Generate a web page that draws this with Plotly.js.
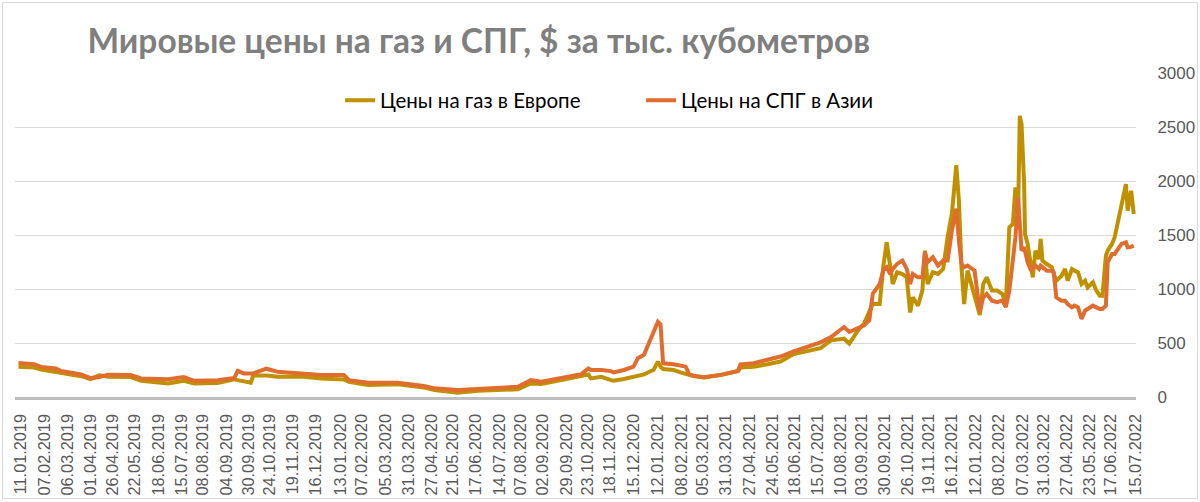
<!DOCTYPE html>
<html>
<head>
<meta charset="utf-8">
<script src="https://cdn.plot.ly/plotly-3.0.1.min.js"></script>
<style>
  html, body { margin: 0; padding: 0; background: #fff; }
  #myChart { width: 1200px; height: 502px; }
  #frame { position: absolute; left: 2px; top: 2px; width: 1194px; height: 495px;
           border: 1px solid #d9d9d9; pointer-events: none; }
</style>
</head>
<body>
<div id="myChart"></div>
<div id="frame"></div>
<script>
// dates of the points
const dates = [
  "2019-01-08", "2019-01-26", "2019-02-03", "2019-02-20", "2019-02-26", "2019-03-21",
  "2019-04-01", "2019-04-11", "2019-04-21", "2019-05-17", "2019-05-29", "2019-06-29",
  "2019-07-17", "2019-07-29", "2019-08-25", "2019-09-13", "2019-09-17", "2019-09-24",
  "2019-10-02", "2019-10-05", "2019-10-20", "2019-11-02", "2019-11-29", "2019-12-22",
  "2020-01-17", "2020-01-23", "2020-02-14", "2020-03-19", "2020-04-18", "2020-04-30",
  "2020-05-27", "2020-06-19", "2020-07-16", "2020-08-04", "2020-08-19", "2020-08-31",
  "2020-09-23", "2020-10-16", "2020-10-24", "2020-10-27", "2020-11-08", "2020-11-19",
  "2020-11-22", "2020-12-04", "2020-12-15", "2020-12-20", "2020-12-27", "2021-01-02",
  "2021-01-07", "2021-01-12", "2021-01-15", "2021-01-18", "2021-01-30", "2021-02-07",
  "2021-02-13", "2021-02-17", "2021-02-22", "2021-03-06", "2021-03-25", "2021-04-14",
  "2021-04-17", "2021-05-02", "2021-05-18", "2021-06-02", "2021-06-17", "2021-07-03",
  "2021-07-18", "2021-07-30", "2021-08-14", "2021-08-20", "2021-08-30", "2021-09-06",
  "2021-09-12", "2021-09-16", "2021-09-24", "2021-09-28", "2021-10-02", "2021-10-06",
  "2021-10-09", "2021-10-14", "2021-10-20", "2021-10-25", "2021-10-29", "2021-11-01",
  "2021-11-07", "2021-11-12", "2021-11-15", "2021-11-18", "2021-11-24", "2021-11-30",
  "2021-12-06", "2021-12-11", "2021-12-16", "2021-12-21", "2021-12-24", "2021-12-27",
  "2021-12-30", "2022-01-03", "2022-01-11", "2022-01-17", "2022-01-21", "2022-01-25",
  "2022-01-31", "2022-02-06", "2022-02-12", "2022-02-16", "2022-02-20", "2022-02-24",
  "2022-02-27", "2022-03-02", "2022-03-04", "2022-03-06", "2022-03-09", "2022-03-10",
  "2022-03-13", "2022-03-17", "2022-03-19", "2022-03-22", "2022-03-26", "2022-03-28",
  "2022-03-30", "2022-04-04", "2022-04-10", "2022-04-12", "2022-04-15", "2022-04-21",
  "2022-04-25", "2022-04-28", "2022-05-03", "2022-05-06", "2022-05-10", "2022-05-14",
  "2022-05-18", "2022-05-21", "2022-05-27", "2022-05-31", "2022-06-04", "2022-06-07",
  "2022-06-11", "2022-06-13", "2022-06-18", "2022-06-21", "2022-06-25", "2022-06-29",
  "2022-07-04", "2022-07-06", "2022-07-10", "2022-07-13"
];

// Цены на газ в Европе
const europe = [
  280, 273, 255, 233, 218, 193,
  165, 200, 187, 185, 150, 126,
  150, 126, 130, 163, 156, 141,
  132, 200, 200, 187, 190, 172,
  163, 141, 110, 117, 89, 64,
  40, 58, 64, 71, 126, 120,
  156, 193, 209, 172, 187, 156,
  150, 166, 187, 197, 209, 234,
  250, 328, 281, 259, 250, 228,
  219, 205, 194, 181, 203, 238,
  272, 281, 303, 328, 397, 422,
  453, 525, 540, 494, 617, 679,
  802, 864, 861, 1201, 1433, 1232,
  1046, 1155, 1139, 1108, 783, 923,
  845, 985, 1356, 1046, 1155, 1139,
  1186, 1480, 1697, 2146, 1820, 1201,
  861, 1170, 954, 760, 1046, 1108,
  985, 985, 954, 862, 1571, 1602,
  1940, 1663, 2603, 2526, 1971, 1509,
  1417, 1200, 1108, 1355, 1278, 1463,
  1262, 1231, 1200, 1139, 1077, 1123,
  1185, 1077, 1185, 1170, 1154, 1046,
  1077, 1015, 1062, 985, 938, 938,
  1309, 1355, 1417, 1478, 1633, 1787,
  1971, 1725, 1910, 1694
];

// Цены на СПГ в Азии
const asia = [
  316, 304, 279, 264, 240, 209,
  175, 185, 205, 203, 172, 165,
  185, 150, 156, 175, 242, 218,
  218, 218, 262, 233, 218, 203,
  203, 156, 132, 132, 101, 80,
  64, 71, 86, 95, 156, 141,
  181, 212, 264, 250, 249, 240,
  228, 250, 281, 360, 390, 500,
  609, 697, 672, 312, 303, 290,
  281, 210, 197, 183, 205, 242,
  303, 312, 344, 375, 422, 469,
  506, 555, 648, 602, 633, 664,
  710, 957, 1046, 1170, 1201, 1139,
  1186, 1232, 1263, 1186, 1046, 1139,
  1108, 1108, 1341, 1248, 1294, 1217,
  1263, 1263, 1542, 1743, 1449, 1232,
  1201, 1217, 1170, 790, 923, 954,
  892, 877, 892, 832, 986, 1294,
  1478, 1848, 1602, 1355, 1386, 1355,
  1247, 1170, 1200, 1216, 1185, 1216,
  1200, 1170, 1170, 1154, 923, 892,
  892, 861, 830, 846, 830, 722,
  799, 815, 846, 830, 815, 815,
  846, 1247, 1324, 1324, 1370, 1417,
  1432, 1386, 1390, 1401
];

// подписи оси X
const tickLabels = [
  "11.01.2019", "07.02.2019", "06.03.2019", "01.04.2019", "26.04.2019", "22.05.2019",
  "18.06.2019", "15.07.2019", "08.08.2019", "04.09.2019", "30.09.2019", "24.10.2019",
  "19.11.2019", "16.12.2019", "13.01.2020", "07.02.2020", "05.03.2020", "31.03.2020",
  "27.04.2020", "21.05.2020", "17.06.2020", "14.07.2020", "07.08.2020", "02.09.2020",
  "29.09.2020", "23.10.2020", "18.11.2020", "15.12.2020", "12.01.2021", "08.02.2021",
  "05.03.2021", "31.03.2021", "27.04.2021", "24.05.2021", "18.06.2021", "15.07.2021",
  "10.08.2021", "03.09.2021", "30.09.2021", "26.10.2021", "19.11.2021", "16.12.2021",
  "12.01.2022", "08.02.2022", "07.03.2022", "31.03.2022", "27.04.2022", "23.05.2022",
  "17.06.2022", "15.07.2022"
];

// dd.mm.yyyy -> yyyy-mm-dd
let tickVals = tickLabels.map(function(s) {
  let p = s.split(".");
  return p[2] + "-" + p[1] + "-" + p[0];
});

const data = [{
    x: dates,
    y: europe,
    name: "Цены на газ в Европе",
    mode: "lines",
    line: {color: "#BF9000", width: 4}
  }, {
    x: dates,
    y: asia,
    name: "Цены на СПГ в Азии",
    mode: "lines",
    line: {color: "#DF6D2D", width: 4}
}];

const layout = {
    width: 1200,
    height: 502,
    margin: {l: 15, r: 64, t: 73, b: 105},
    paper_bgcolor: "#fff",
    plot_bgcolor: "#fff",
    showlegend: true,
    title: {
      text: "Мировые цены на газ и СПГ, $ за тыс. кубометров",
      font: {family: "Lato", size: 33.5, color: "#7f7f7f", weight: "bold"},
      x: 0.399, xanchor: "center",
      xref: "container", yref: "container",
      y: 0.918, yanchor: "middle"
    },
    legend: {
      orientation: "h",
      x: 0.29, xanchor: "left",
      y: 0.915, yanchor: "middle",
      font: {family: "Lato", size: 20.5, color: "#000"},
      bgcolor: "rgba(0,0,0,0)",
      entrywidth: 256,
      entrywidthmode: "pixels"
    },
    xaxis: {
      type: "date",
      range: ["2019-01-04", "2022-07-15 14:00"],
      tickmode: "array",
      tickvals: tickVals,
      ticktext: tickLabels,
      tickangle: -90,
      tickfont: {family: "Liberation Sans", size: 16.3, color: "#595959"},
      ticks: "outside",
      ticklen: 8,
      tickcolor: "rgba(0,0,0,0)",
      showgrid: false,
      zeroline: false,
      showline: true,
      linecolor: "#bfbfbf",
      linewidth: 2.5
    },
    yaxis: {
      side: "right",
      range: [0, 3000],
      dtick: 500,
      tick0: 0,
      showgrid: true,
      gridcolor: "#d9d9d9",
      gridwidth: 1,
      zeroline: false,
      showline: false,
      ticks: "outside",
      ticklen: 17,
      tickcolor: "rgba(0,0,0,0)",
      tickfont: {family: "Liberation Sans", size: 17, color: "#595959"}
    }
};

const config = {responsive: false, displayModeBar: false, staticPlot: true};

Plotly.newPlot("myChart", data, layout, config);
</script>
</body>
</html>
